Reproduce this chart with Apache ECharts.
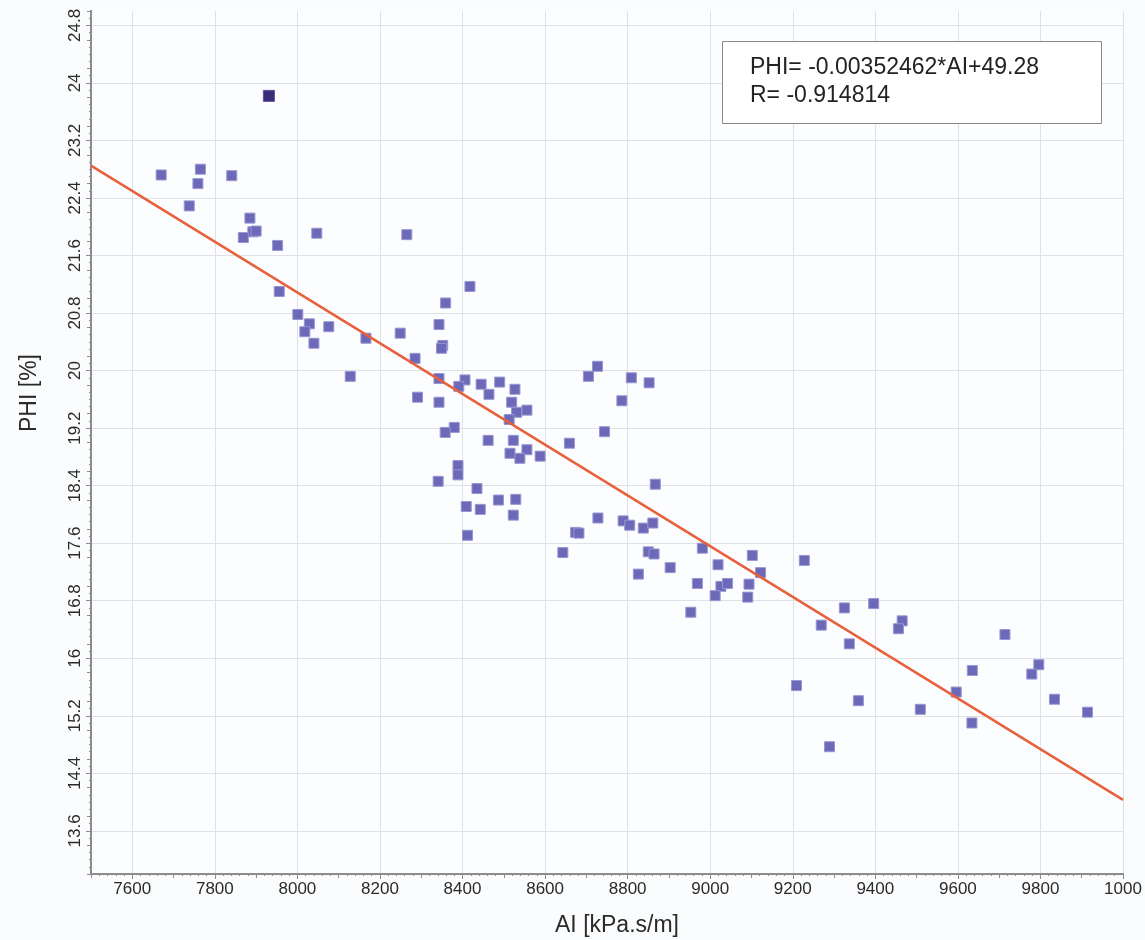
<!DOCTYPE html>
<html>
<head>
<meta charset="utf-8">
<title>PHI vs AI</title>
<script src="https://cdn.jsdelivr.net/npm/echarts@6/dist/echarts.min.js"></script>
<style>
  html, body { margin: 0; padding: 0; background: #fbfcfd; }
  #chart { width: 1145px; height: 940px; }
</style>
</head>
<body>
<div id="chart"></div>
<script>
// acoustic impedance (kPa.s/m)
var ai = [
  7670, 7765, 7759, 7841, 7738, 7885, 7892, 7900, 7869, 7952,
  8047, 7956, 8001, 8029, 8018, 8076, 8040, 8166, 8128, 8265,
  8418, 8359, 8343, 8249, 8352, 8349, 8285, 8343, 8406, 8391,
  8445, 8490, 8527, 8464, 8291, 8343, 8519, 8531, 8556, 8513,
  8380, 8358, 8462, 8523, 8556, 8515, 8539, 8588, 8659, 8744,
  8786, 8705, 8727, 8809, 8852, 8389, 8389, 8341, 8435, 8487,
  8529, 8409, 8443, 8523, 8412, 8643, 8674, 8682, 8728, 8789,
  8805, 8838, 8861, 8867, 8850, 8864, 8981, 9019, 9102, 9122,
  9228, 8826, 8903, 8969, 9026, 9042, 9094, 9012, 9091, 8953,
  9325, 9396, 9269, 9337, 9465, 9456, 9714, 9209, 9359, 9289,
  9635, 9596, 9509, 9634, 9796, 9779, 9834, 9914
]
// porosity (%)
var phi = [
  22.72, 22.80, 22.60, 22.71, 22.29, 22.12, 21.93, 21.94, 21.85, 21.74,
  21.91, 21.10, 20.78, 20.65, 20.54, 20.61, 20.38, 20.45, 19.92, 21.89,
  21.17, 20.94, 20.64, 20.52, 20.35, 20.31, 20.17, 19.89, 19.87, 19.78,
  19.81, 19.84, 19.74, 19.67, 19.63, 19.56, 19.56, 19.42, 19.45, 19.32,
  19.21, 19.14, 19.03, 19.03, 18.90, 18.85, 18.78, 18.81, 18.99, 19.15,
  19.58, 19.92, 20.06, 19.90, 19.83, 18.68, 18.55, 18.46, 18.36, 18.20,
  18.21, 18.11, 18.07, 17.99, 17.71, 17.47, 17.75, 17.74, 17.95, 17.91,
  17.85, 17.81, 17.88, 18.42, 17.48, 17.45, 17.53, 17.30, 17.43, 17.19,
  17.36, 17.17, 17.26, 17.04, 17.00, 17.04, 17.03, 16.87, 16.85, 16.64,
  16.70, 16.76, 16.46, 16.20, 16.52, 16.41, 16.33, 15.62, 15.41, 14.77,
  15.83, 15.53, 15.29, 15.10, 15.91, 15.78, 15.43, 15.25
]
// the one selected (dark) sample
var selAi = [7931]
var selPhi = [23.82]

// regression line end points
var fitAi = [7500, 10000]
var fitPhi = [22.85, 14.03]

var xTicks = [7600, 7800, 8000, 8200, 8400, 8600, 8800, 9000, 9200, 9400, 9600, 9800, 10000]
var xTickLabels = ['7600', '7800', '8000', '8200', '8400', '8600', '8800', '9000', '9200', '9400', '9600', '9800', '1000']
var yTicks = [13.6, 14.4, 15.2, 16, 16.8, 17.6, 18.4, 19.2, 20, 20.8, 21.6, 22.4, 23.2, 24, 24.8]
var yTickLabels = ['13.6', '14.4', '15.2', '16', '16.8', '17.6', '18.4', '19.2', '20', '20.8', '21.6', '22.4', '23.2', '24', '24.8']

var fitText = ['PHI= -0.00352462*AI+49.28', 'R= -0.914814']

var font = 'Liberation Sans, Arial, Helvetica, sans-serif'

var pts = []
for (var i = 0; i < ai.length; i++) {
  pts.push([ai[i], phi[i]])
}
var sel = []
for (var i = 0; i < selAi.length; i++) {
  sel.push([selAi[i], selPhi[i]])
}
var fit = []
for (var i = 0; i < fitAi.length; i++) {
  fit.push([fitAi[i], fitPhi[i]])
}

var chart = echarts.init(document.getElementById('chart'))

var axisLine = { show: true, onZero: false, lineStyle: { color: '#8c8c8c', width: 2 } }

chart.setOption({
  backgroundColor: '#fbfcfd',
  animation: false,
  grid: {
    left: 91,
    right: 22,
    top: 11,
    bottom: 66,
    outerBoundsMode: 'none',
    show: true,
    backgroundColor: '#fcfdfe',
    borderWidth: 0
  },
  xAxis: [
    {
      type: 'value',
      min: 7500,
      max: 10000,
      position: 'bottom',
      axisLine: axisLine,
      axisTick: {
        show: true,
        length: 5,
        customValues: xTicks,
        lineStyle: { color: '#8c8c8c' }
      },
      axisLabel: {
        customValues: xTicks,
        margin: 7,
        fontFamily: font,
        fontSize: 17,
        color: '#2a2a2a',
        formatter: function (v) {
          var k = xTicks.indexOf(v)
          return k >= 0 ? xTickLabels[k] : ''
        }
      },
      splitLine: { show: true, lineStyle: { color: '#dfe1e7', width: 1 } },
      name: 'AI [kPa.s/m]',
      nameLocation: 'middle',
      nameGap: 40,
      nameTextStyle: { fontFamily: font, fontSize: 23, color: '#2a2a2a', padding: [0, 0, 0, 20] }
    },
    {
      type: 'value',
      min: 7500,
      max: 10000,
      interval: 100,
      position: 'bottom',
      axisLine: axisLine,
      axisTick: { show: true, length: 4, lineStyle: { color: '#8c8c8c' } },
      minorTick: { show: true, splitNumber: 5, length: 2, lineStyle: { color: '#8c8c8c' } },
      axisLabel: { show: false },
      splitLine: { show: false }
    }
  ],
  yAxis: [
    {
      type: 'value',
      min: 13,
      max: 25,
      position: 'left',
      axisLine: axisLine,
      axisTick: {
        show: true,
        length: 5,
        customValues: yTicks,
        lineStyle: { color: '#8c8c8c' }
      },
      axisLabel: {
        customValues: yTicks,
        rotate: 90,
        margin: 7,
        fontFamily: font,
        fontSize: 17,
        color: '#2a2a2a',
        formatter: function (v) {
          for (var k = 0; k < yTicks.length; k++) {
            if (Math.abs(yTicks[k] - v) < 1e-6) return yTickLabels[k]
          }
          return ''
        }
      },
      splitLine: { show: true, lineStyle: { color: '#dfe1e7', width: 1 } }
    },
    {
      type: 'value',
      min: 13,
      max: 25,
      interval: 0.4,
      position: 'left',
      axisLine: axisLine,
      axisTick: { show: true, length: 4, lineStyle: { color: '#8c8c8c' } },
      minorTick: { show: true, splitNumber: 4, length: 2, lineStyle: { color: '#8c8c8c' } },
      axisLabel: { show: false },
      splitLine: { show: false }
    }
  ],
  graphic: [
    {
      type: 'text',
      x: 30,
      y: 393,
      rotation: Math.PI / 2,
      style: {
        text: 'PHI [%]',
        font: '23px ' + font,
        fill: '#2a2a2a',
        align: 'center',
        verticalAlign: 'middle'
      }
    },
    {
      type: 'rect',
      shape: { x: 722.5, y: 41.5, width: 379, height: 82 },
      style: { fill: '#ffffff', stroke: '#8a8a8a', lineWidth: 1 },
      z: 100
    },
    {
      type: 'text',
      x: 750,
      y: 68,
      z: 101,
      style: { text: fitText[0], font: '23px ' + font, fill: '#222', verticalAlign: 'middle' }
    },
    {
      type: 'text',
      x: 750,
      y: 96,
      z: 101,
      style: { text: fitText[1], font: '23px ' + font, fill: '#222', verticalAlign: 'middle' }
    }
  ],
  series: [
    {
      type: 'scatter',
      xAxisIndex: 0,
      yAxisIndex: 0,
      symbol: 'rect',
      symbolSize: 10,
      itemStyle: { color: '#6b69b8', borderColor: '#9896d2', borderWidth: 1, opacity: 1 },
      data: pts,
      z: 3
    },
    {
      type: 'scatter',
      xAxisIndex: 0,
      yAxisIndex: 0,
      symbol: 'rect',
      symbolSize: 11,
      itemStyle: { color: '#3b2c78', borderColor: '#5d53a0', borderWidth: 1, opacity: 1 },
      data: sel,
      z: 3
    },
    {
      type: 'line',
      xAxisIndex: 0,
      yAxisIndex: 0,
      data: fit,
      symbol: 'none',
      lineStyle: { color: '#e8603c', width: 2.5 },
      z: 4
    }
  ]
})
</script>
</body>
</html>
